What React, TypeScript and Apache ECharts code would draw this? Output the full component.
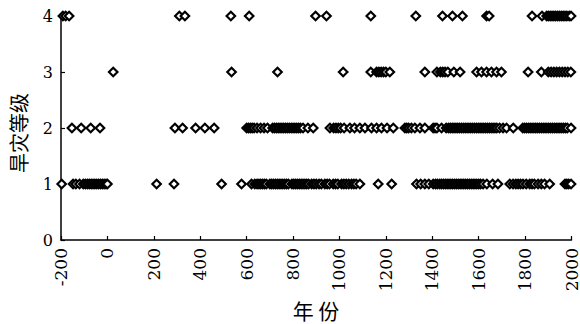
import React, { useEffect, useRef } from "react";
import * as echarts from "echarts";

const xTicks = { min: -200, max: 2000, interval: 200 };
const yTicks = { min: 0, max: 4, interval: 1 };

const level1Years = [
  -197, -148, -136, -120, -104, -95, -86, -78, -70, -62, -54, -46, -38, -30, -22, -14, -6, 0,
  212, 287, 492, 578, 621, 635, 645, 653, 661, 669, 677, 685, 700, 708, 716, 724, 732, 740,
  748, 756, 764, 772, 780, 795, 803, 811, 819, 827, 835, 843, 851, 859, 867, 880, 890, 900,
  912, 922, 937, 947, 957, 973, 983, 993, 1009, 1019, 1029, 1040, 1052, 1062, 1072, 1088,
  1167, 1225,
  1332, 1350, 1368, 1385, 1404, 1414, 1422, 1432, 1440, 1448, 1456, 1464, 1472, 1480, 1488,
  1496, 1504, 1512, 1520, 1528, 1536, 1544, 1552, 1560, 1568, 1576, 1584, 1592, 1600, 1608,
  1619, 1635, 1660, 1683,
  1734, 1748, 1760, 1770, 1780, 1791, 1805, 1820, 1830, 1840, 1856, 1870, 1884, 1906,
  1972, 1980, 1988, 1998,
];

const level2Years = [
  -153, -113, -72, -32, 291, 324, 380, 420, 460,
  600, 608, 616, 624, 632, 645, 660, 675, 690, 712, 720, 728, 736, 744, 752, 760, 768, 776,
  784, 792, 800, 808, 816, 824, 832, 843, 864, 887,
  959, 975, 985, 995, 1005, 1020, 1045, 1065, 1088, 1110, 1138, 1160, 1181, 1205, 1232,
  1282, 1290, 1298, 1310, 1325, 1347, 1368,
  1404, 1412, 1420, 1440, 1460, 1470, 1478, 1486, 1494, 1502, 1510, 1518, 1526, 1534, 1542,
  1550, 1558, 1566, 1574, 1582, 1590, 1598, 1606, 1614, 1622, 1630, 1638, 1646, 1654, 1662,
  1670, 1678, 1690, 1705, 1720, 1749,
  1790, 1798, 1806, 1814, 1822, 1830, 1838, 1846, 1854, 1862, 1870, 1878, 1886, 1894, 1902,
  1910, 1918, 1926, 1934, 1942, 1950, 1958, 1966, 1974, 1982, 1998,
];

const level3Years = [
  25, 535, 733, 1016, 1135, 1160, 1170, 1180, 1190, 1200, 1217, 1368,
  1420, 1435, 1445, 1455, 1467, 1493, 1520,
  1591, 1612, 1634, 1655, 1677, 1698,
  1813, 1870, 1900, 1912, 1924, 1936, 1948, 1960, 1972, 1984, 1997,
];

const level4Years = [
  -192, -180, -165, 310, 334, 532, 611, 897, 944, 1135, 1329, 1444, 1487, 1530, 1634, 1645,
  1830, 1873, 1893, 1900, 1908, 1916, 1924, 1932, 1940, 1948, 1956, 1964, 1972, 1980, 1990,
  1998,
];

const levels: [number, number[]][] = [
  [1, level1Years],
  [2, level2Years],
  [3, level3Years],
  [4, level4Years],
];

const serif = "DejaVu Serif";
const cjk = "Noto Sans CJK SC";

export default function App() {
  const ref = useRef<HTMLDivElement>(null);
  useEffect(() => {
    if (!ref.current) return;
    const chart = echarts.init(ref.current, undefined, { renderer: "svg" });
    const data: number[][] = [];
    levels.forEach(([lv, years]) => {
      years.forEach((y) => data.push([y, lv]));
    });
    data.sort((a, b) => a[0] - b[0]);
    chart.setOption({
      animation: false,
      backgroundColor: "#ffffff",
      grid: { left: 61, right: 8, top: 16, bottom: 84, containLabel: false },
      xAxis: {
        type: "value",
        min: xTicks.min,
        max: xTicks.max,
        interval: xTicks.interval,
        axisLine: { show: true, onZero: false, lineStyle: { color: "#000", width: 1.5 } },
        axisTick: { show: true, inside: true, length: 4, lineStyle: { color: "#000", width: 1.2 } },
        axisLabel: {
          rotate: 90,
          margin: 8,
          color: "#000",
          fontFamily: serif,
          fontSize: 17,
          formatter: (v: number) => String(v),
        },
        splitLine: { show: false },
      },
      yAxis: {
        type: "value",
        min: yTicks.min,
        max: yTicks.max,
        interval: yTicks.interval,
        axisLine: { show: true, onZero: false, lineStyle: { color: "#000", width: 1.5 } },
        axisTick: { show: true, inside: true, length: 4, lineStyle: { color: "#000", width: 1.2 } },
        axisLabel: {
          margin: 8,
          color: "#000",
          fontFamily: serif,
          fontSize: 16,
          formatter: (v: number) => String(v),
        },
        splitLine: { show: false },
      },
      graphic: [
        {
          type: "text",
          x: 316,
          y: 310,
          style: {
            text: "年 份",
            fill: "#000",
            fontFamily: cjk,
            fontSize: 21,
            align: "center",
            verticalAlign: "middle",
          },
        },
        {
          type: "text",
          x: 18,
          y: 133,
          rotation: Math.PI / 2,
          style: {
            text: "旱灾等级",
            fill: "#000",
            fontFamily: cjk,
            fontSize: 20,
            align: "center",
            verticalAlign: "middle",
          },
        },
      ],
      series: [
        {
          type: "scatter",
          symbol: "diamond",
          symbolSize: 8.5,
          data,
          itemStyle: { color: "#fff", borderColor: "#000", borderWidth: 2.2, opacity: 1 },
          emphasis: { disabled: true },
          clip: false,
        },
      ],
    });
    return () => chart.dispose();
  }, []);
  return (
    <div
      ref={ref}
      style={{ position: "fixed", left: 0, top: 0, width: 580, height: 324, background: "#fff" }}
    />
  );
}
